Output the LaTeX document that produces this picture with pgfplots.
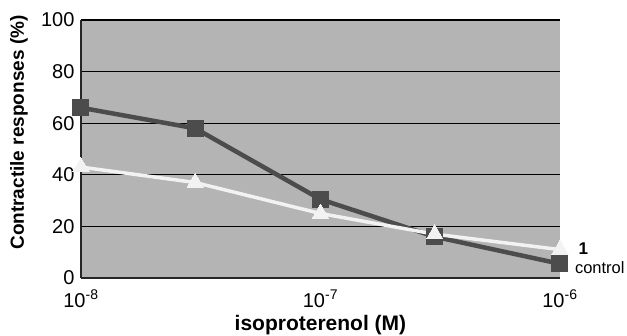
\documentclass[border=0pt]{standalone}
\usepackage{pgfplots}
\pgfplotsset{compat=1.18}
\usepackage{fontspec}
\setmainfont{Liberation Sans}
\definecolor{bgc}{HTML}{B4B4B4}
\definecolor{sq}{HTML}{4C4C4C}
\definecolor{tri}{HTML}{F2F2F2}
\begin{document}
\begin{tikzpicture}
\useasboundingbox (-81pt,-57pt) rectangle (546pt,278pt);
\begin{axis}[
  scale only axis, width=479pt, height=258pt,
  at={(0,0)}, anchor=south west,
  xmode=log, xmin=1e-8, xmax=1e-6,
  ymin=0, ymax=100,
  ytick={0,20,...,100},
  xtick={1e-8,1e-7,1e-6},
  xticklabels={10\textsuperscript{-8},10\textsuperscript{-7},10\textsuperscript{-6}},
  /pgf/number format/assume math mode=true,
  axis lines*=left,
  axis line style={line width=1.4pt, color=black!85, -},
  major tick length=0pt,
  minor tick length=0pt,
  ymajorgrids, grid style={line width=1.3pt, black},
  axis background/.style={fill=bgc},
  tick label style={font=\fontsize{20}{20}\selectfont},
  yticklabel style={xshift=-3pt},
  xticklabel style={anchor=base, yshift=-29pt},
  xlabel={\textbf{isoproterenol (M)}},
  ylabel={\textbf{Contractile responses (\%)}},
  xlabel style={font=\fontsize{21}{21}\selectfont, at={(axis description cs:0.5,0)}, anchor=base, yshift=-52.5pt, inner sep=0pt},
  ylabel style={font=\fontsize{19}{19}\selectfont, at={(axis description cs:0,0.564)}, anchor=center, yshift=62pt, inner sep=0pt},
  clip=false,
]
\addplot[color=sq, line width=4.5pt, mark=square*, mark size=8pt, mark options={line width=0pt}] coordinates {
 (1e-8,66) (3e-8,58) (1e-7,30.5) (3e-7,16) (1e-6,5.5)};
\addplot[color=tri, line width=3.5pt, mark=triangle*, mark size=9.5pt, mark options={line width=0pt, fill=tri}] coordinates {
 (1e-8,43) (3e-8,37) (1e-7,25) (3e-7,17) (1e-6,11)};
\node[font=\fontsize{17}{17}\selectfont\bfseries, anchor=center] at (rel axis cs:1.049,0.112) {1};
\node[font=\fontsize{16.5}{16.5}\selectfont, anchor=base west, inner sep=0pt] at (rel axis cs:1.031,0.016) {control};
\end{axis}
\end{tikzpicture}
\end{document}
